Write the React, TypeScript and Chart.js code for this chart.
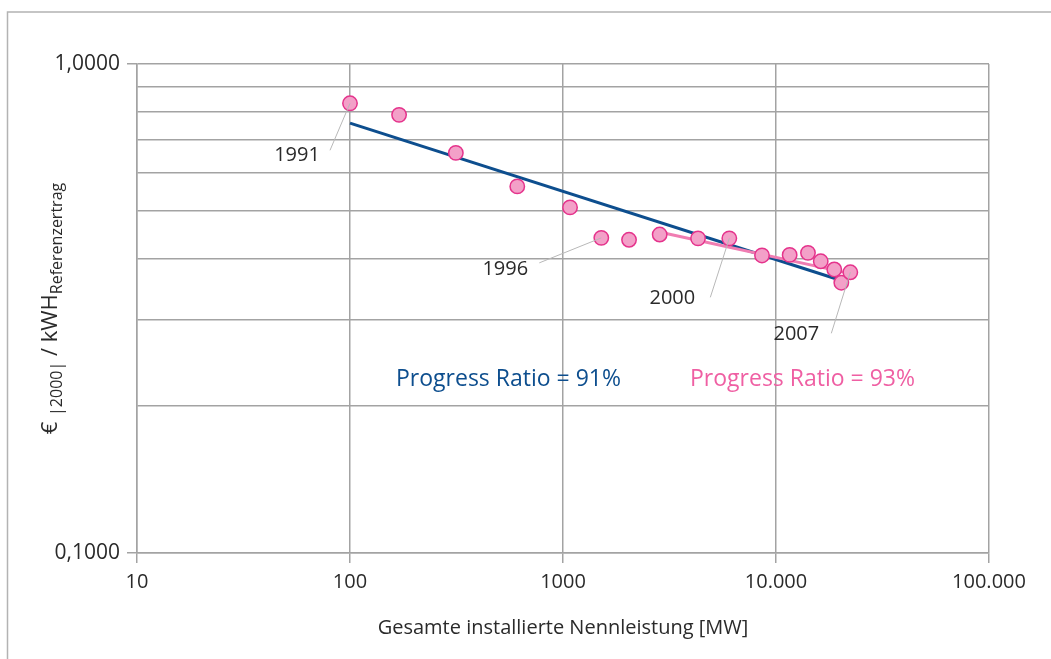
import React, { useEffect, useRef } from "react";
import { Chart, registerables } from "chart.js";

Chart.register(...registerables);

// ---------- data ----------
const years = [1991, 1992, 1993, 1994, 1995, 1996, 1997, 1998, 1999, 2000, 2001, 2002, 2003, 2004, 2005, 2006, 2007];
const capacityMW = [100, 170, 314, 610, 1079, 1513, 2042, 2844, 4305, 6037, 8596, 11590, 14130, 16220, 18780, 20260, 22330];
const costPerKWh = [0.831, 0.787, 0.658, 0.562, 0.509, 0.441, 0.437, 0.448, 0.44, 0.44, 0.406, 0.407, 0.411, 0.395, 0.38, 0.357, 0.375];

const trend91X = [100, 21850];
const trend91Y = [0.757, 0.357];
const trend93X = [3050, 21850];
const trend93Y = [0.45, 0.3735];

const xTickValues = [10, 100, 1000, 10000, 100000];
const xTickLabels = ["10", "100", "1000", "10.000", "100.000"];
const yTickValues = [0.1, 0.2, 0.3, 0.4, 0.5, 0.6, 0.7, 0.8, 0.9, 1];
const yTickLabels = ["0,1000", "", "", "", "", "", "", "", "", "1,0000"];

const annotatedYears = [1991, 1996, 2000, 2007];
const ratioLabels = ["Progress Ratio = 91%", "Progress Ratio = 93%"];
const xTitle = "Gesamte installierte Nennleistung [MW]";

// ---------- styles / layout ----------
const FONT = "'Open Sans', sans-serif";
const TEXT = "#2a2a2a";
const GRID = "#a3a3a3";
const BLUE = "#0d4e8e";
const PINK_LINE = "#f07db2";
const PINK_TEXT = "#ef5fa3";
const POINT_FILL = "#f3a0c8";
const POINT_BORDER = "#e5338c";
const LEADER = "#b8b8b8";

// leader-line start and label centre offsets (px) relative to the annotated point
const annotationOffsets: Record<number, { lx: number; ly: number; tx: number; ty: number }> = {
  1991: { lx: -20, ly: 47, tx: -53, ty: 52 },
  1996: { lx: -62, ly: 25, tx: -96, ty: 31 },
  2000: { lx: -19, ly: 59, tx: -57, ty: 60 },
  2007: { lx: -19, ly: 61, tx: -54, ty: 62 },
};

const overlayPlugin = {
  id: "overlay",
  beforeDraw(chart: any) {
    const ctx = chart.ctx;
    ctx.save();
    ctx.strokeStyle = "#b3b3b3";
    ctx.lineWidth = 1.5;
    ctx.beginPath();
    ctx.moveTo(1051, 12);
    ctx.lineTo(7.5, 12);
    ctx.lineTo(7.5, 659);
    ctx.stroke();
    ctx.restore();
  },
  afterDatasetsDraw(chart: any) {
    const ctx = chart.ctx;
    const xs = chart.scales.x;
    const ys = chart.scales.y;
    const area = chart.chartArea;
    ctx.save();
    // year annotations
    annotatedYears.forEach((yr) => {
      const i = years.indexOf(yr);
      const px = xs.getPixelForValue(capacityMW[i]);
      const py = ys.getPixelForValue(costPerKWh[i]);
      const o = annotationOffsets[yr];
      ctx.strokeStyle = LEADER;
      ctx.lineWidth = 1;
      ctx.beginPath();
      ctx.moveTo(px + o.lx, py + o.ly);
      ctx.lineTo(px, py);
      ctx.stroke();
      ctx.fillStyle = TEXT;
      ctx.font = `20px ${FONT}`;
      ctx.textAlign = "center";
      ctx.textBaseline = "middle";
      ctx.fillText(String(yr), px + o.tx, py + o.ty);
    });
    // progress ratio labels
    ctx.font = `23px ${FONT}`;
    ctx.textAlign = "left";
    ctx.textBaseline = "middle";
    ctx.fillStyle = BLUE;
    ctx.fillText(ratioLabels[0], area.left + 259, 379);
    ctx.fillStyle = PINK_TEXT;
    ctx.fillText(ratioLabels[1], area.left + 553, 379);
    ctx.restore();
  },
  afterDraw(chart: any) {
    const ctx = chart.ctx;
    const area = chart.chartArea;
    ctx.save();
    // x title
    ctx.fillStyle = TEXT;
    ctx.font = `20px ${FONT}`;
    ctx.textAlign = "center";
    ctx.textBaseline = "middle";
    ctx.fillText(xTitle, (area.left + area.right) / 2, 628);
    // y title with subscripts
    const segs = [
      { t: "€ ", sub: false },
      { t: "|2000|", sub: true },
      { t: " / kWH", sub: false },
      { t: "Referenzertrag", sub: true },
    ];
    const mainFont = `22px ${FONT}`;
    const subFont = `16px ${FONT}`;
    let total = 0;
    const widths = segs.map((s) => {
      ctx.font = s.sub ? subFont : mainFont;
      const w = ctx.measureText(s.t).width;
      total += w;
      return w;
    });
    ctx.translate(57, (area.top + area.bottom) / 2);
    ctx.rotate(-Math.PI / 2);
    ctx.textAlign = "left";
    ctx.textBaseline = "alphabetic";
    let x = -total / 2;
    segs.forEach((s, i) => {
      ctx.font = s.sub ? subFont : mainFont;
      ctx.fillText(s.t, x, s.sub ? 5 : 0);
      x += widths[i];
    });
    ctx.restore();
  },
};

export default function App() {
  const ref = useRef<HTMLCanvasElement | null>(null);
  useEffect(() => {
    if (!ref.current) return;
    const chart = new Chart(ref.current, {
      type: "scatter",
      data: {
        datasets: [
          {
            label: "Kosten",
            data: capacityMW.map((x, i) => ({ x, y: costPerKWh[i] })),
            backgroundColor: POINT_FILL,
            borderColor: POINT_BORDER,
            borderWidth: 1.5,
            pointRadius: 7.2,
            order: 0,
          },
          {
            label: "PR 91%",
            data: trend91X.map((x, i) => ({ x, y: trend91Y[i] })),
            showLine: true,
            borderColor: BLUE,
            borderWidth: 3,
            pointRadius: 0,
            order: 2,
          },
          {
            label: "PR 93%",
            data: trend93X.map((x, i) => ({ x, y: trend93Y[i] })),
            showLine: true,
            borderColor: PINK_LINE,
            borderWidth: 3,
            pointRadius: 0,
            order: 1,
          },
        ],
      },
      options: {
        responsive: true,
        maintainAspectRatio: false,
        animation: false,
        layout: { padding: { left: 0, top: 64, right: 62, bottom: 0 } },
        plugins: { legend: { display: false }, tooltip: { enabled: false } },
        scales: {
          x: {
            type: "logarithmic",
            min: 10,
            max: 100000,
            afterBuildTicks: (s: any) => {
              s.ticks = xTickValues.map((v) => ({ value: v }));
            },
            afterFit: (s: any) => {
              s.height = 106;
            },
            ticks: {
              callback: (_v: any, i: number) => xTickLabels[i],
              font: { family: FONT, size: 20 },
              color: TEXT,
              padding: 7,
              maxRotation: 0,
              autoSkip: false,
            },
            grid: { color: GRID, lineWidth: 1.5, tickLength: 10, tickColor: GRID },
            border: { color: GRID, width: 1.5 },
          },
          y: {
            type: "logarithmic",
            min: 0.1,
            max: 1,
            afterBuildTicks: (s: any) => {
              s.ticks = yTickValues.map((v) => ({ value: v }));
            },
            afterFit: (s: any) => {
              s.width = 137;
            },
            ticks: {
              callback: (_v: any, i: number) => yTickLabels[i],
              font: { family: FONT, size: 21 },
              color: TEXT,
              padding: 7,
              autoSkip: false,
            },
            grid: {
              color: GRID,
              lineWidth: 1.5,
              tickLength: 10,
              tickColor: (c: any) => (yTickLabels[c.index] ? GRID : "rgba(0,0,0,0)"),
            },
            border: { color: GRID, width: 1.5 },
          },
        },
      },
      plugins: [overlayPlugin],
    });
    return () => chart.destroy();
  }, []);
  return (
    <div style={{ position: "absolute", left: 0, top: 0, width: 1051, height: 659, background: "#fff" }}>
      <canvas ref={ref} />
    </div>
  );
}
